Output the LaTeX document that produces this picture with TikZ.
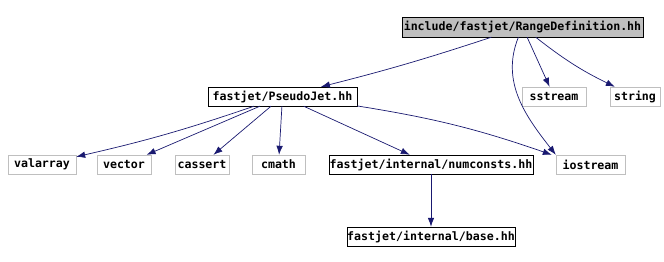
\documentclass[tikz,border=0pt]{standalone}
\usepackage{fontspec}
\newfontfamily\codefont{DejaVu Sans Mono}
\definecolor{edgeblue}{RGB}{25, 25, 112}
\definecolor{boxgray}{RGB}{191, 191, 191}
\usetikzlibrary{arrows.meta, positioning}

\begin{document}
\begin{tikzpicture}[x=1pt, y=-1pt, auto]
      \tikzstyle{file} = [rectangle, draw, thin, text centered, inner sep=0pt, minimum height=19pt, font=\codefont\bfseries\fontsize{11.6}{13}\selectfont]
      \tikzstyle{sysfile} = [file, draw=boxgray]
      \tikzstyle{line} = [draw, color=edgeblue, line width=0.7pt, -{Latex[length=9pt, width=6.5pt]}]

      \useasboundingbox (0,0) rectangle (664,262);

      % top level header
      \node [file, fill=boxgray, minimum width=241pt, minimum height=20pt] (range) at (522.5,27) {include/fastjet/RangeDefinition.hh};

      % second row
      \node [file, minimum width=149pt] (pseudojet) at (282.5,96.5) {fastjet/PseudoJet.hh};
      \node [sysfile, minimum width=64pt] (sstream) at (554,96.5) {sstream};
      \node [sysfile, minimum width=50pt] (string) at (635,96.5) {string};

      % third row
      \node [sysfile, minimum width=68pt] (valarray) at (42,164.5) {valarray};
      \node [sysfile, minimum width=54pt] (vector) at (124,164.5) {vector};
      \node [sysfile, minimum width=54pt] (cassert) at (202,164.5) {cassert};
      \node [sysfile, minimum width=53pt] (cmath) at (278.5,164.5) {cmath};
      \node [file, minimum width=204pt] (numconsts) at (431,164.5) {fastjet/internal/numconsts.hh};
      \node [sysfile, minimum width=69pt] (iostream) at (590.5,164.5) {iostream};

      % bottom
      \node [file, minimum width=164pt] (base) at (431,236.5) {fastjet/internal/base.hh};

      \path [line] (range) to[bend left=2] (pseudojet);
      \path [line] (range) to[out=-112, in=128] (iostream.north west);
      \path [line] (range) -- (sstream);
      \path [line] (range) to[bend right=6] (string);
      \path [line] (pseudojet) to[bend left=3] (valarray);
      \path [line] (pseudojet) -- (vector);
      \path [line] (pseudojet) -- (cassert);
      \path [line] (pseudojet) -- (cmath);
      \path [line] (pseudojet) -- (numconsts);
      \path [line] (pseudojet) to[bend left=5] ([xshift=-4pt]iostream.north west);
      \path [line] (numconsts) -- (base);
    \end{tikzpicture}
\end{document}
